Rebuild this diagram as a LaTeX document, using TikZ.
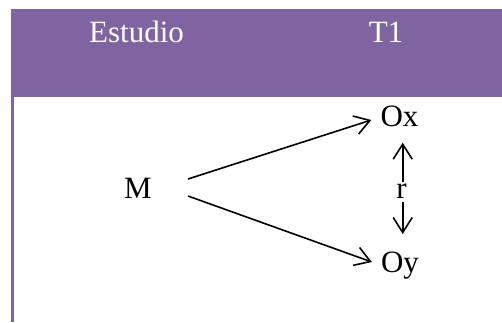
\documentclass[tikz,border=0pt]{standalone}
\usepackage{fontspec}
\setmainfont{Liberation Serif}
\usetikzlibrary{arrows.meta,calc}
\definecolor{headpurple}{HTML}{8064A2}
\tikzset{
  lbl/.style={inner sep=0pt, anchor=base, font=\fontsize{31}{36}\selectfont},
  headlbl/.style={lbl, text=white},
  link/.style={line width=1.6pt, -{Straight Barb[length=15pt,width=19pt,line width=1.6pt]}}
}
\begin{document}
\begin{tikzpicture}[x=1pt,y=1pt]
  \useasboundingbox (0,0) rectangle (502,-322);
  % table header band and left rule
  \fill[headpurple] (11,-9) rectangle (502,-97);
  \fill[headpurple] (11,-97) rectangle (14,-322);
  \node[headlbl] (est) at (136.5,-42.3) {Estudio};
  \node[headlbl] (t1) at (386,-42.3) {T1};
  % design scheme
  \node[lbl] (M) at (138,-198) {M};
  \node[lbl] (Ox) at (399.5,-126) {Ox};
  \node[lbl] (Oy) at (400,-272) {Oy};
  \node[lbl] (r) at (401.5,-198) {r};
  \draw[link] ($(M.base east)+(36,19)$) -- ($(Ox.base west)+(-9,6)$);
  \draw[link] ($(M.base east)+(36,2)$) -- ($(Oy.base west)+(-9,10)$);
  \draw[link] ($(r.base)+(1.2,16)$) -- ($(Ox.base)+(3.2,-16.7)$);
  \draw[link] ($(r.base)+(1.2,-4)$) -- ($(Oy.base)+(2.7,38)$);
\end{tikzpicture}
\end{document}
